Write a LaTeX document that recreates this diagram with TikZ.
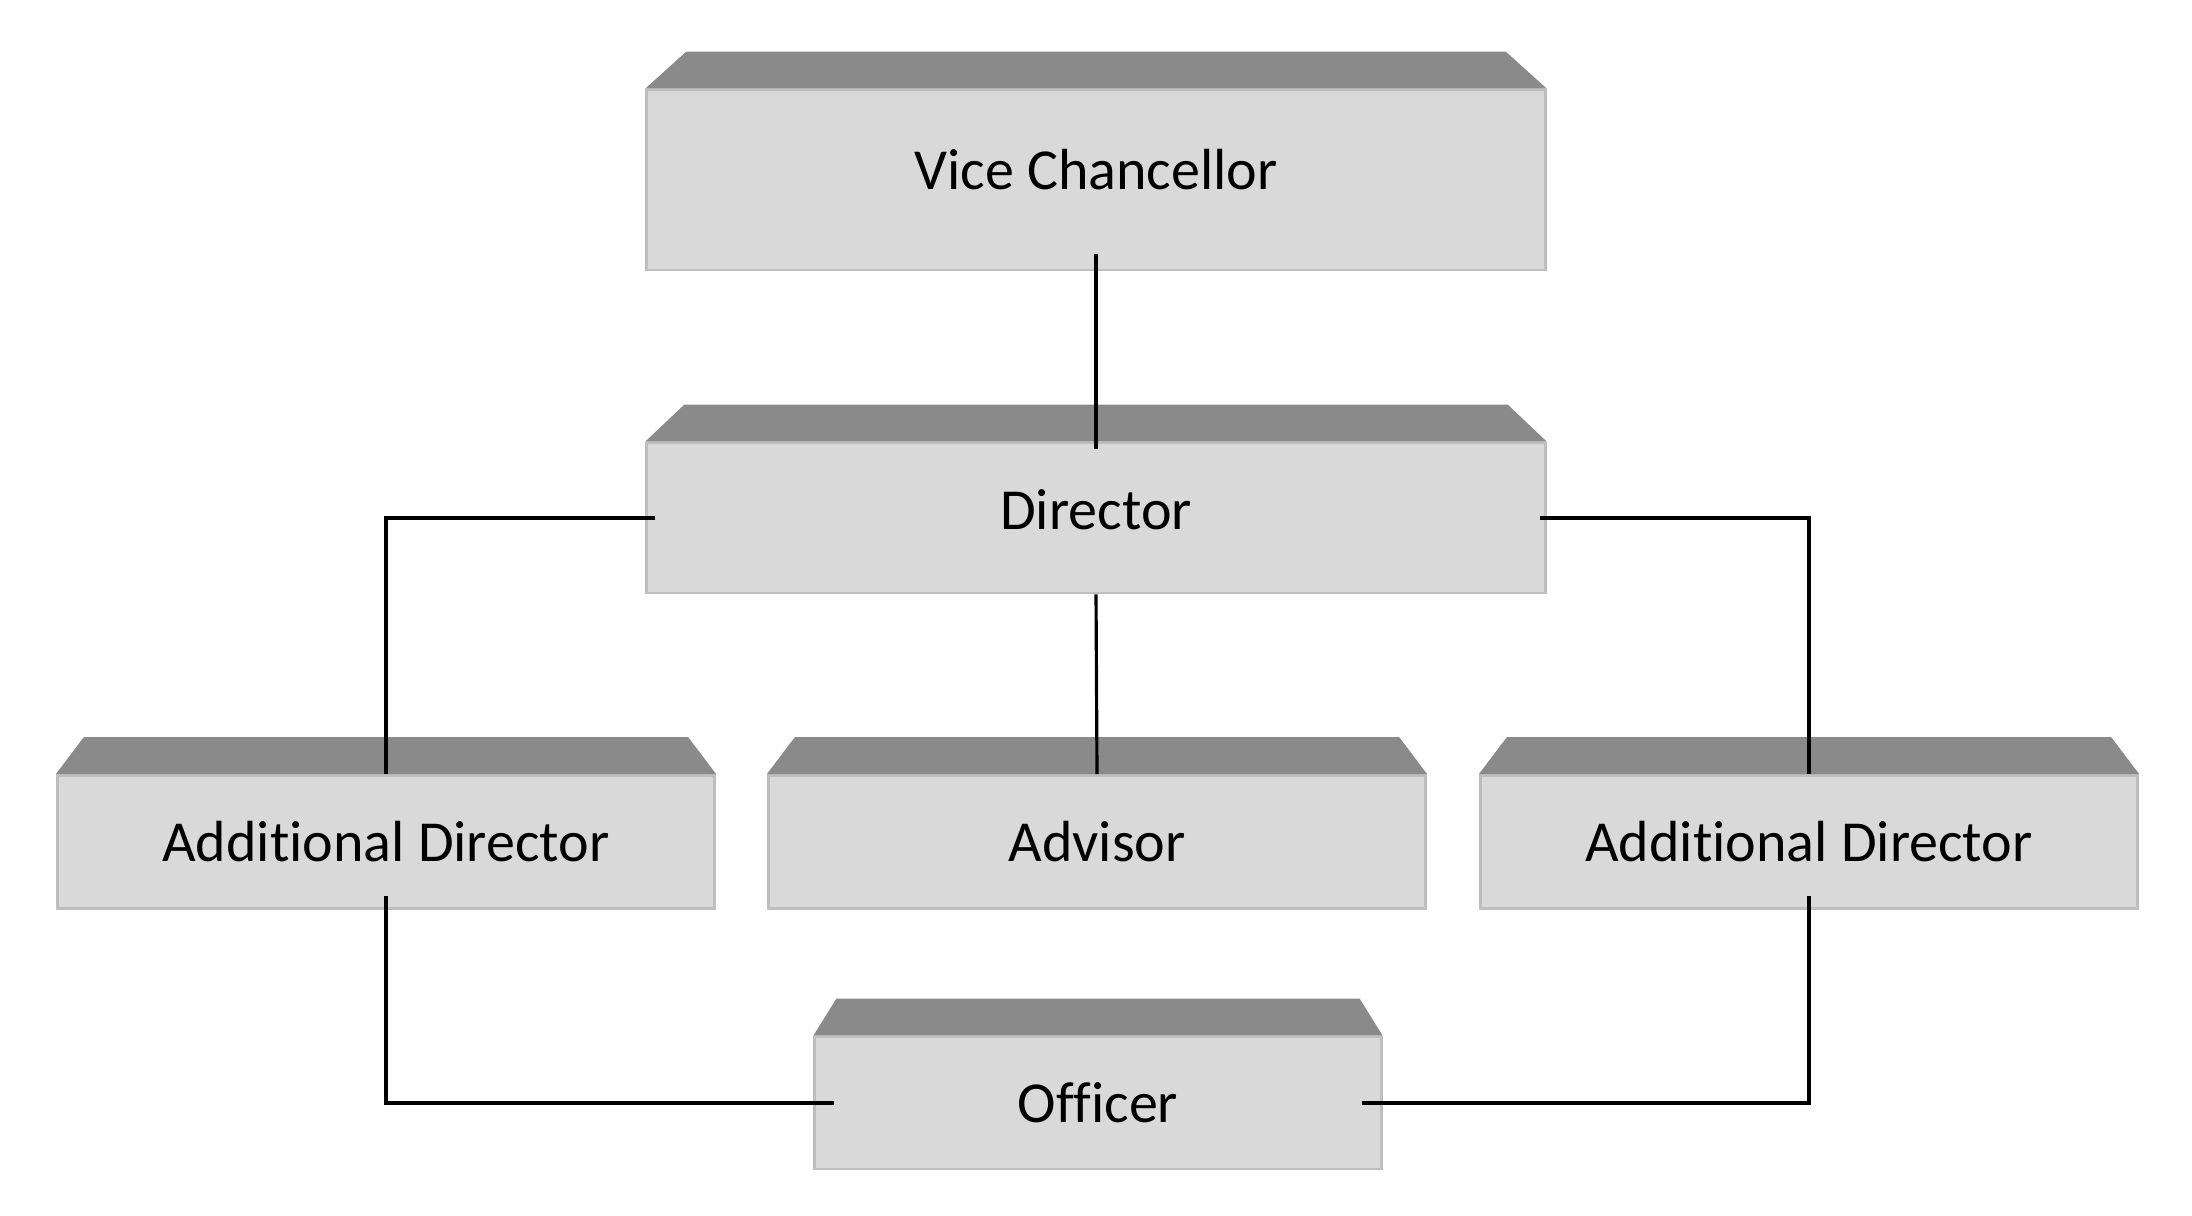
\documentclass[tikz,border=0pt]{standalone}
\usepackage{fontspec}
\setmainfont{Carlito}[Ligatures=NoCommon]
\usetikzlibrary{calc, positioning}
\definecolor{frontgray}{HTML}{D9D9D9}
\definecolor{topgray}{HTML}{8A8A8A}
\definecolor{edgegray}{HTML}{BEBEBE}
\tikzset{
  orgbox/.style={rectangle, fill=frontgray, draw=edgegray, line width=0.8pt,
    inner sep=0pt, font=\fontsize{16.5}{20}\selectfont},
  link/.style={line width=0.9pt, black}
}

\begin{document}
\begin{tikzpicture}[x=0.01cm, y=-0.01cm]
  \useasboundingbox (0,0) rectangle (2192,1216);
  % boxes (front faces)
  \node[orgbox, minimum width=8.98cm, minimum height=1.80cm, text depth=0.22cm] (vc) at (1096,180) {Vice Chancellor};
  \node[orgbox, minimum width=8.98cm, minimum height=1.50cm, text depth=0.16cm] (dir) at (1096,518) {Director};
  \node[orgbox, minimum width=6.57cm, minimum height=1.33cm] (ad1) at (386,842) {Additional Director};
  \node[orgbox, minimum width=6.57cm, minimum height=1.33cm] (adv) at (1097,842) {Advisor};
  \node[orgbox, minimum width=6.57cm, minimum height=1.33cm] (ad2) at (1809,842) {Additional Director};
  \node[orgbox, minimum width=5.66cm, minimum height=1.32cm] (off) at (1098,1103) {Officer};
  % top faces
  \foreach \n/\s in {vc/41, dir/39, ad1/28, adv/28, ad2/28, off/23}
    \fill[topgray] (\n.north west) -- ++(\s,-37) -- ($(\n.north east)+(-\s,-37)$) -- (\n.north east) -- cycle;
  % connectors
  \draw[link, shorten <=-0.17cm, shorten >=-0.07cm] (vc.south) -- (dir.north);
  \draw[link] (dir.south) -- (adv.north);
  \draw[link, shorten <=-0.1cm] (dir.west) -| (ad1.north);
  \draw[link, shorten <=-0.07cm] (dir.east) -| (ad2.north);
  \draw[link, shorten <=-0.14cm, shorten >=-0.21cm] (ad1.south) |- (off.west);
  \draw[link, shorten <=-0.14cm, shorten >=-0.21cm] (ad2.south) |- (off.east);
\end{tikzpicture}
\end{document}
